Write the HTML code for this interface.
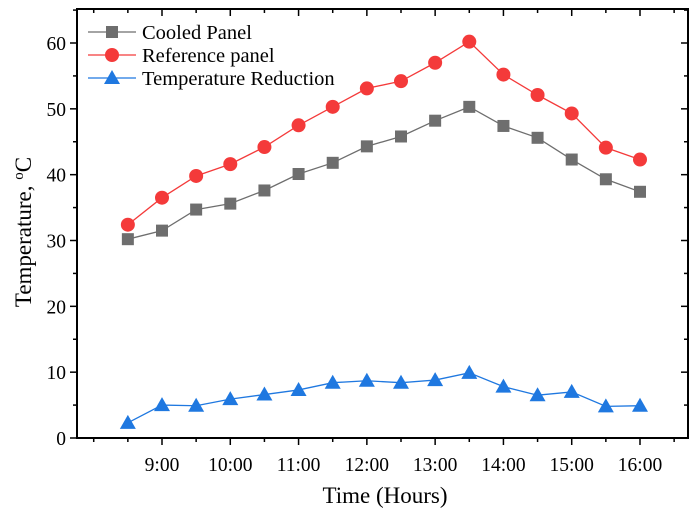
<!DOCTYPE html>
<html><head><meta charset="utf-8"><style>
body{margin:0;background:#fff}
svg{font-family:"Liberation Serif",serif;display:block}
</style></head><body>
<svg id="c" width="698" height="514"></svg>
<script>
const hours=[8.5,9,9.5,10,10.5,11,11.5,12,12.5,13,13.5,14,14.5,15,15.5,16];
const cooled=[30.2,31.5,34.7,35.6,37.6,40.1,41.8,44.3,45.8,48.2,50.3,47.4,45.6,42.3,39.3,37.4];
const reference=[32.4,36.5,39.8,41.6,44.2,47.5,50.3,53.1,54.2,57.0,60.2,55.2,52.1,49.3,44.1,42.3];
const reduction=[2.3,5.0,4.9,5.9,6.6,7.3,8.4,8.7,8.4,8.8,9.9,7.8,6.5,7.0,4.8,4.9];
const xLabels=["9:00","10:00","11:00","12:00","13:00","14:00","15:00","16:00"];
const yTicks=[0,10,20,30,40,50,60];
const L=77,R=688,T=9,B=438;
const X=h=>162+(h-9)*(640-162)/7;
const Y=v=>438-v*(438-43)/60;
const s=document.getElementById('c');
const NS="http://www.w3.org/2000/svg";
function el(t,a,p){const e=document.createElementNS(NS,t);for(const k in a)e.setAttribute(k,a[k]);(p||s).appendChild(e);return e;}
let f=el('rect',{x:L,y:T,width:R-L,height:B-T,fill:'none',stroke:'#000','stroke-width':2});


for(let h=7.5;h<=16.5;h+=0.5){const x=X(h);if(x<=L||x>=R)continue;const maj=Number.isInteger(h)&&h>=9;
 el('line',{x1:x,y1:B,x2:x,y2:B+(maj?7:4),stroke:'#000','stroke-width':1.5});
 el('line',{x1:x,y1:T,x2:x,y2:T+(maj?7:4),stroke:'#000','stroke-width':1.5});}
xLabels.forEach((lb,i)=>{const t=el('text',{x:X(9+i),y:471,'text-anchor':'middle','font-size':19.5});t.textContent=lb;
 
 });
for(let v=0;v<=65;v+=5){const y=Y(v);const maj=v%10===0;
 el('line',{x1:L,y1:y,x2:L-(maj?7:4),y2:y,stroke:'#000','stroke-width':1.5});
 el('line',{x1:R,y1:y,x2:R-(maj?7:4),y2:y,stroke:'#000','stroke-width':1.5});}
yTicks.forEach(v=>{const t=el('text',{x:L-11,y:Y(v)+7,'text-anchor':'end','font-size':19.5});t.textContent=v;
 
 });
let xt=el('text',{x:385,y:503,'text-anchor':'middle','font-size':23});xt.textContent='Time (Hours)';


let yt=el('text',{x:0,y:0,'text-anchor':'middle','font-size':23,transform:'translate(31,232) rotate(-90)'});
yt.innerHTML='Temperature, <tspan dy="-8" font-size="15">o</tspan><tspan dy="8">C</tspan>';


function marker(kind,x,y,c,g){
 if(kind==='sq')return el('rect',{x:x-6,y:y-6,width:12,height:12,fill:c},g);
 if(kind==='ci')return el('circle',{cx:x,cy:y,r:7,fill:c},g);
 return el('polygon',{points:`${x},${y-8} ${x+8},${y+6} ${x-8},${y+6}`,fill:c},g);}
function series(vals,col,kind,name){const g=el('g',{});
 
 
 el('polyline',{points:vals.map((v,i)=>X(hours[i])+','+Y(v)).join(' '),fill:'none',stroke:col,'stroke-width':1.3},g);
 vals.forEach((v,i)=>{const m=marker(kind,X(hours[i]),Y(v),col,g);
  
  });}
series(cooled,'#6e6e6e','sq','cooled-panel-series');
series(reference,'#f43a3a','ci','reference-panel-series');
series(reduction,'#1f78e0','tr','temperature-reduction-series');
const leg=[['Cooled Panel','#6e6e6e','sq'],['Reference panel','#f43a3a','ci'],['Temperature Reduction','#1f78e0','tr']];
leg.forEach((l,i)=>{const y=32+i*23;const g=el('g',{});
 
 
 el('line',{x1:88,y1:y,x2:136,y2:y,stroke:l[1],'stroke-width':1.3},g);
 marker(l[2],112,y,l[1],g);
 const t=el('text',{x:142,y:y+7,'font-size':20.5},g);t.textContent=l[0];});
</script>
</body></html>
